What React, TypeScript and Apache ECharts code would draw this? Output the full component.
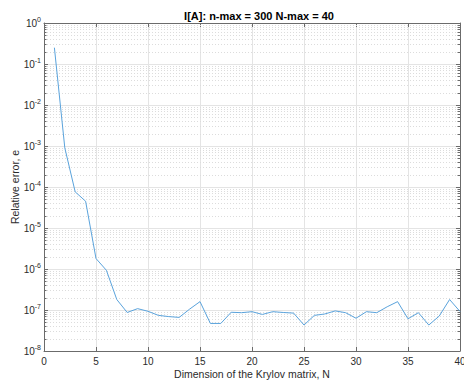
import React, { useEffect, useRef } from "react";
import * as echarts from "echarts";

// Krylov dimension N and the relative error e measured at each N
const dims: number[] = [
  1, 2, 3, 4, 5, 6, 7, 8, 9, 10, 11, 12, 13, 14, 15, 16, 17, 18, 19, 20,
  21, 22, 23, 24, 25, 26, 27, 28, 29, 30, 31, 32, 33, 34, 35, 36, 37, 38, 39, 40,
];
const relErr: number[] = [
  2.5e-1, 9.0e-4, 7.6e-5, 4.5e-5, 1.8e-6, 9.3e-7, 1.8e-7, 8.7e-8, 1.08e-7, 9.3e-8,
  7.4e-8, 6.9e-8, 6.6e-8, 1.05e-7, 1.6e-7, 4.7e-8, 4.7e-8, 8.8e-8, 8.6e-8, 9.1e-8,
  7.8e-8, 9.1e-8, 8.7e-8, 8.4e-8, 4.3e-8, 7.4e-8, 8.0e-8, 9.5e-8, 8.6e-8, 6.3e-8,
  9.1e-8, 8.6e-8, 1.2e-7, 1.6e-7, 6.1e-8, 8.6e-8, 4.3e-8, 7.1e-8, 1.8e-7, 9.2e-8,
];

// Log-axis decades and the in-between multiples that get minor grid lines
const decadeExponents: number[] = [-8, -7, -6, -5, -4, -3, -2, -1];
const minorMultiples: number[] = [2, 3, 4, 5, 6, 7, 8, 9];

const FONT = "'Liberation Sans', Arial, Helvetica, sans-serif";
const AXIS_COLOR = "#6b6b6b";
const TEXT_COLOR = "#2b2b2b";

export default function App() {
  const ref = useRef<HTMLDivElement>(null);

  useEffect(() => {
    if (!ref.current) return;
    const chart = echarts.init(ref.current, undefined, { renderer: "svg" });

    const minorVals: number[][] = [];
    decadeExponents.forEach((e) =>
      minorMultiples.forEach((m) => minorVals.push([0, m * Math.pow(10, e)]))
    );

    const expLabel = (v: number) => {
      const e = Math.round(Math.log10(v));
      return `{b|10}{s|${e}}`;
    };

    chart.setOption({
      animation: false,
      backgroundColor: "#ffffff",
      title: {
        text: "I[A]: n-max = 300 N-max = 40",
        left: 254,
        top: 5,
        textAlign: "center",
        textStyle: {
          fontFamily: FONT,
          fontSize: 11,
          fontWeight: "bold",
          color: "#000",
        },
      },
      grid: {
        left: 44,
        right: 4,
        top: 23,
        bottom: 30,
        containLabel: false,
        outerBoundsMode: "none",
      },
      xAxis: [
        {
          type: "value",
          position: "bottom",
          min: 0,
          max: 40,
          interval: 5,
          name: "Dimension of the Krylov matrix, N",
          nameLocation: "middle",
          nameGap: 17,
          nameMoveOverlap: false,
          nameTextStyle: { fontFamily: FONT, fontSize: 10.5, color: TEXT_COLOR },
          axisLine: { show: true, onZero: false, lineStyle: { color: AXIS_COLOR, width: 1 } },
          axisTick: { show: true, inside: true, length: 4, lineStyle: { color: AXIS_COLOR } },
          axisLabel: { fontFamily: FONT, fontSize: 10, color: TEXT_COLOR, margin: 5 },
          splitLine: { show: true, lineStyle: { color: "#e4e4e4", width: 1 } },
        },
        {
          type: "value",
          position: "top",
          min: 0,
          max: 40,
          interval: 5,
          axisLine: { show: true, onZero: false, lineStyle: { color: AXIS_COLOR, width: 1 } },
          axisTick: { show: true, inside: true, length: 4, lineStyle: { color: AXIS_COLOR } },
          axisLabel: { show: false },
          splitLine: { show: false },
        },
      ],
      yAxis: [
        {
          type: "log",
          logBase: 10,
          position: "left",
          min: 1e-8,
          max: 1,
          splitNumber: 8,
          name: "Relative error, e",
          nameLocation: "middle",
          nameGap: 24,
          nameMoveOverlap: false,
          nameTextStyle: { fontFamily: FONT, fontSize: 10.5, color: TEXT_COLOR },
          axisLine: { show: true, onZero: false, lineStyle: { color: AXIS_COLOR, width: 1 } },
          axisTick: { show: true, inside: true, length: 4, lineStyle: { color: AXIS_COLOR } },
          axisLabel: {
            margin: 3,
            formatter: expLabel,
            rich: {
              b: { fontFamily: FONT, fontSize: 10, color: TEXT_COLOR },
              s: { fontFamily: FONT, fontSize: 7, color: TEXT_COLOR, padding: [0, 0, 7, 0] },
            },
          },
          splitLine: { show: true, lineStyle: { color: "#e4e4e4", width: 1 } },
        },
        {
          type: "log",
          logBase: 10,
          position: "right",
          min: 1e-8,
          max: 1,
          splitNumber: 8,
          axisLine: { show: true, onZero: false, lineStyle: { color: AXIS_COLOR, width: 1 } },
          axisTick: { show: true, inside: true, length: 4, lineStyle: { color: AXIS_COLOR } },
          axisLabel: { show: false },
          splitLine: { show: false },
        },
      ],
      series: [
        {
          // dotted minor grid plus short minor ticks on both vertical axes
          type: "custom",
          silent: true,
          xAxisIndex: 0,
          yAxisIndex: 0,
          z: 1,
          data: minorVals,
          encode: { x: 0, y: 1 },
          renderItem: (params: any, api: any) => {
            const cs = params.coordSys;
            const y = Math.round(api.coord([0, api.value(1)])[1]) + 0.5;
            const x0 = cs.x;
            const x1 = cs.x + cs.width;
            return {
              type: "group",
              children: [
                {
                  type: "line",
                  shape: { x1: x0, y1: y, x2: x1, y2: y },
                  style: { stroke: "#dcdcdc", lineWidth: 1, lineDash: [1, 2] },
                },
                {
                  type: "line",
                  shape: { x1: x0, y1: y, x2: x0 + 2.5, y2: y },
                  style: { stroke: AXIS_COLOR, lineWidth: 1 },
                },
                {
                  type: "line",
                  shape: { x1: x1 - 2.5, y1: y, x2: x1, y2: y },
                  style: { stroke: AXIS_COLOR, lineWidth: 1 },
                },
              ],
            };
          },
        },
        {
          type: "line",
          xAxisIndex: 0,
          yAxisIndex: 0,
          z: 3,
          data: dims.map((n, i) => [n, relErr[i]]),
          symbol: "none",
          lineStyle: { color: "#5aa3dc", width: 1 },
        },
      ],
    });

    return () => chart.dispose();
  }, []);

  return (
    <div
      ref={ref}
      style={{ position: "fixed", left: 0, top: 0, width: 464, height: 381 }}
    />
  );
}
